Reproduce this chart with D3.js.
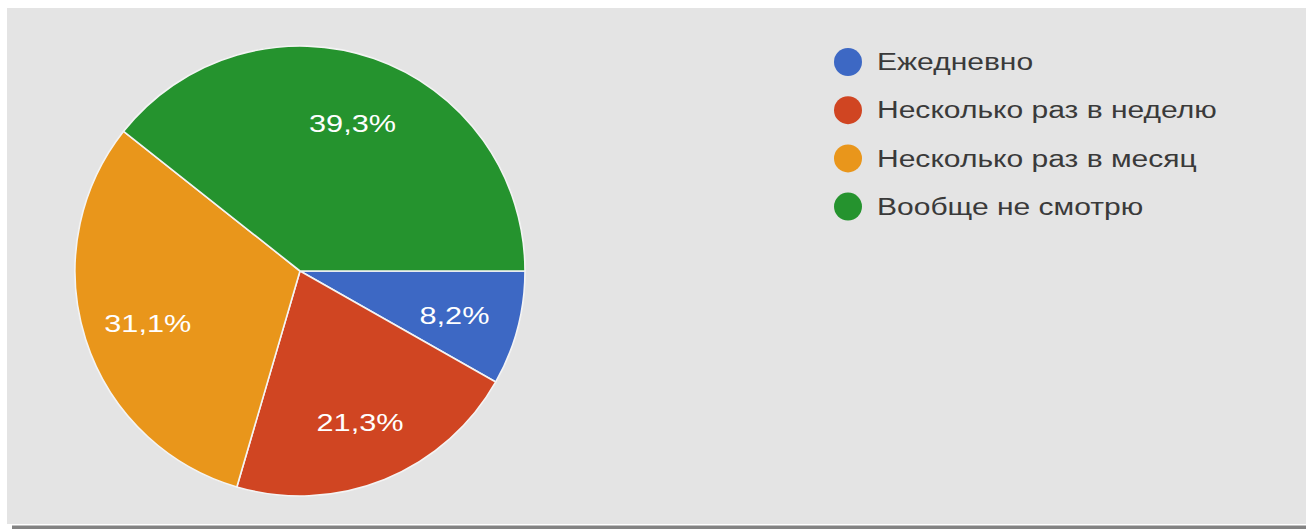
<!DOCTYPE html>
<html>
<head>
<meta charset="utf-8">
<script src="https://cdn.jsdelivr.net/npm/d3@7/dist/d3.min.js"></script>
<style>
  html, body { margin: 0; padding: 0; background: #ffffff; }
  svg { display: block; }
</style>
</head>
<body>
<svg id="chart" width="1306" height="529"></svg>
<script>
// Survey answers: how often people watch
const categories = ["Ежедневно", "Несколько раз в неделю", "Несколько раз в месяц", "Вообще не смотрю"];
const values = [8.2, 21.3, 31.1, 39.3];
const labels = ["8,2%", "21,3%", "31,1%", "39,3%"];
const colors = ["#3d68c4", "#d04522", "#e9961b", "#25932e"];

const svg = d3.select("#chart");
const W = 1306, H = 529;

// card background and its bottom shadow edge
svg.append("rect").attr("x", 7).attr("y", 8).attr("width", W - 7).attr("height", 516).attr("fill", "#e4e4e4");
svg.append("rect").attr("x", 12).attr("y", 525.5).attr("width", W - 12).attr("height", 3.5).attr("fill", "#838383");

const cx = 300, cy = 271, r = 225;

const pie = d3.pie().sort(null).value(d => d)
  .startAngle(Math.PI / 2).endAngle(Math.PI / 2 + 2 * Math.PI);
const arcs = pie(values);
const arc = d3.arc().innerRadius(0).outerRadius(r);
const labelArc = d3.arc().innerRadius(r * 0.71).outerRadius(r * 0.71);

const g = svg.append("g").attr("transform", `translate(${cx},${cy})`);

g.selectAll("path.slice").data(arcs).enter().append("path")
  .attr("class", "slice")
  .attr("d", arc)
  .attr("fill", (d, i) => colors[i])
  .attr("stroke", "#f4f4f4")
  .attr("stroke-width", 1.6)
  .attr("stroke-linejoin", "round");

const font = "'Liberation Sans', Arial, sans-serif";

// slice percentage labels
const lab = g.selectAll("g.lab").data(arcs).enter().append("g")
  .attr("class", "lab")
  .attr("transform", d => { const c = labelArc.centroid(d); return `translate(${c[0]},${c[1] + 4})`; });
const labText = lab.append("text")
  .attr("text-anchor", "middle")
  .attr("dy", "0.36em")
  .attr("font-family", font)
  .attr("font-size", 23)
  .attr("fill", "#ffffff")
  .text((d, i) => labels[i]);
// widen labels to the card's wide glyph rendering
const wRef = labText.filter((d, i) => i === 3).node().getComputedTextLength();
const sLab = 87 / wRef;
labText.attr("transform", `scale(${sLab},1)`);

// legend
const legend = svg.append("g").attr("transform", "translate(848,62)");
const rows = legend.selectAll("g.row").data(categories).enter().append("g")
  .attr("class", "row")
  .attr("transform", (d, i) => `translate(0,${i * 48.2})`);
rows.append("circle").attr("r", 14).attr("fill", (d, i) => colors[i]);
const legText = rows.append("text")
  .attr("x", 0)
  .attr("dy", "0.36em")
  .attr("font-family", font)
  .attr("font-size", 23)
  .attr("fill", "#3a3a3a")
  .text(d => d);
const wLeg = legText.filter((d, i) => i === 1).node().getComputedTextLength();
const sLeg = 340 / wLeg;
legText.attr("transform", `translate(29,0) scale(${sLeg},1)`);
</script>
</body>
</html>
